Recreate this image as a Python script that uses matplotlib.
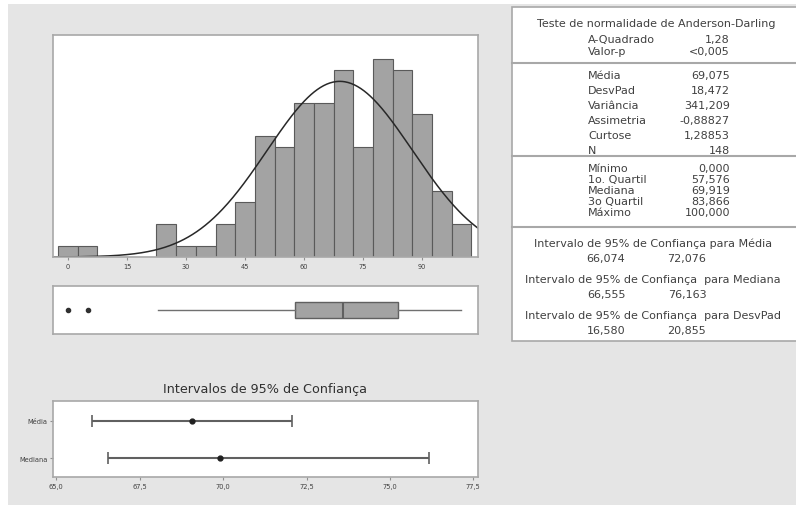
import numpy as np
import matplotlib.pyplot as plt
from matplotlib.patches import Rectangle
from matplotlib.lines import Line2D

# histogram: bins of width 5 centred on 0, 5, ..., 100
bin_centers = np.arange(0, 105, 5)
counts = [1, 1, 0, 0, 0, 3, 1, 1, 3, 5, 11, 10, 14, 14, 17, 10, 18, 17, 13, 6, 3]

# summary statistics
n_obs = 148
mean = 69.075
std = 18.472
q1, median, q3 = 57.576, 69.919, 83.866
whisker_lo, whisker_hi = 23.0, 100.0
outliers = [0.0, 5.0]

ci_labels = ['Mediana', 'Média']
ci_centers = [median, mean]
ci_low = [66.555, 66.074]
ci_high = [76.163, 72.076]
ci_ticks = [65.0, 67.5, 70.0, 72.5, 75.0, 77.5]

table_ad = [('A-Quadrado', '1,28'), ('Valor-p', '<0,005')]
table_stats = [('Média', '69,075'), ('DesvPad', '18,472'), ('Variância', '341,209'),
               ('Assimetria', '-0,88827'), ('Curtose', '1,28853'), ('N', '148')]
table_quart = [('Mínimo', '0,000'), ('1o. Quartil', '57,576'), ('Mediana', '69,919'),
               ('3o Quartil', '83,866'), ('Máximo', '100,000')]
table_ci = [('Intervalo de 95% de Confiança para Média', '66,074', '72,076'),
            ('Intervalo de 95% de Confiança  para Mediana', '66,555', '76,163'),
            ('Intervalo de 95% de Confiança  para DesvPad', '16,580', '20,855')]

W, H = 796, 506
BG = '#e5e5e5'
FRAME = '#a8a8a8'


def fx(px):
    return px / W


def fy(py):
    return 1 - py / H


def box(left, top, right, bottom):
    return [fx(left), fy(bottom), fx(right) - fx(left), fy(top) - fy(bottom)]


fig = plt.figure(figsize=(W / 100, H / 100), dpi=100)
fig.patch.set_facecolor('white')
fig.patches.append(Rectangle((fx(8), 0), 1, fy(5), transform=fig.transFigure,
                             facecolor=BG, edgecolor='none', zorder=-10))

xlim = (-3.8, 104.2)

# --- histogram with fitted normal curve
ax = fig.add_axes(box(53, 36, 478, 258))
ax.bar(bin_centers, counts, width=5, color='#a3a3a3', edgecolor='#5a5a5a', linewidth=0.8)
xs = np.linspace(xlim[0], xlim[1], 400)
pdf = n_obs * 5 / (std * np.sqrt(2 * np.pi)) * np.exp(-0.5 * ((xs - mean) / std) ** 2)
ax.plot(xs, pdf, color='#282828', lw=1.1)
ax.set_xlim(xlim)
ax.set_ylim(0, 20.2)
ax.set_yticks([])
ax.set_xticks(range(0, 91, 15))
ax.tick_params(axis='x', labelsize=4.8, length=2, color='#909090', labelcolor='#404040', pad=2)
for s in ax.spines.values():
    s.set_color(FRAME)
    s.set_linewidth(1.2)

# --- boxplot
axb = fig.add_axes(box(53, 287, 478, 335))
axb.bxp([{'med': median, 'q1': q1, 'q3': q3, 'whislo': whisker_lo,
          'whishi': whisker_hi, 'fliers': outliers}],
        orientation='horizontal', widths=0.35, patch_artist=True,
        boxprops=dict(facecolor='#a3a3a3', edgecolor='#606060', linewidth=1),
        medianprops=dict(color='#606060', linewidth=1.5),
        whiskerprops=dict(color='#707070', linewidth=1),
        capprops=dict(linewidth=0),
        flierprops=dict(marker='o', markersize=3, markerfacecolor='#303030',
                        markeredgecolor='#303030'))
axb.set_xlim(xlim)
axb.set_ylim(0.5, 1.5)
axb.set_xticks([])
axb.set_yticks([])
for s in axb.spines.values():
    s.set_color(FRAME)
    s.set_linewidth(1.2)

# --- confidence intervals
axc = fig.add_axes(box(53, 402, 478, 478))
ypos = np.arange(len(ci_labels))
err = [np.array(ci_centers) - np.array(ci_low), np.array(ci_high) - np.array(ci_centers)]
axc.errorbar(ci_centers, ypos, xerr=err, fmt='o', color='#505050', ecolor='#606060',
             markersize=3.5, markerfacecolor='#202020', markeredgecolor='#202020',
             elinewidth=1.5, capsize=4, capthick=1.2)
axc.set_xlim(64.9, 77.64)
axc.set_ylim(-0.5, 1.53)
axc.set_xticks(ci_ticks)
axc.set_xticklabels([f'{t:.1f}'.replace('.', ',') for t in ci_ticks])
axc.set_yticks(ypos)
axc.set_yticklabels(ci_labels)
axc.tick_params(labelsize=4.8, length=2, color='#909090', labelcolor='#404040', pad=2)
for s in axc.spines.values():
    s.set_color(FRAME)
    s.set_linewidth(1.2)
fig.text(fx(265), fy(390), 'Intervalos de 95% de Confiança', ha='center', va='center',
         fontsize=9.2, color='#303030')

# --- statistics table
fig.patches.append(Rectangle((fx(512), fy(342)), fx(300), fy(8) - fy(342),
                             transform=fig.transFigure, facecolor='white',
                             edgecolor=FRAME, linewidth=1.2, zorder=-5))
for yy in [64, 157, 228]:
    fig.add_artist(Line2D([fx(512), 1], [fy(yy), fy(yy)], color=FRAME, lw=1.5))

TS = 8.0
TC = '#404040'
lab_x, val_x = 588, 730
fig.text(fx(656), fy(24), 'Teste de normalidade de Anderson-Darling', ha='center',
         va='center', fontsize=TS, color=TC)
for i, (lab, val) in enumerate(table_ad):
    yy = 40 + i * 12
    fig.text(fx(lab_x), fy(yy), lab, ha='left', va='center', fontsize=TS, color=TC)
    fig.text(fx(val_x), fy(yy), val, ha='right', va='center', fontsize=TS, color=TC)
for i, (lab, val) in enumerate(table_stats):
    yy = 76 + i * 15
    fig.text(fx(lab_x), fy(yy), lab, ha='left', va='center', fontsize=TS, color=TC)
    fig.text(fx(val_x), fy(yy), val, ha='right', va='center', fontsize=TS, color=TC)
for i, (lab, val) in enumerate(table_quart):
    yy = 169 + i * 11
    fig.text(fx(lab_x), fy(yy), lab, ha='left', va='center', fontsize=TS, color=TC)
    fig.text(fx(val_x), fy(yy), val, ha='right', va='center', fontsize=TS, color=TC)
for i, (lab, lo, hi) in enumerate(table_ci):
    yy = 244 + i * 36
    fig.text(fx(653), fy(yy), lab, ha='center', va='center', fontsize=TS, color=TC)
    fig.text(fx(606), fy(yy + 15), lo, ha='center', va='center', fontsize=TS, color=TC)
    fig.text(fx(687), fy(yy + 15), hi, ha='center', va='center', fontsize=TS, color=TC)

fig.savefig('out.png', dpi=100, facecolor=fig.get_facecolor())
